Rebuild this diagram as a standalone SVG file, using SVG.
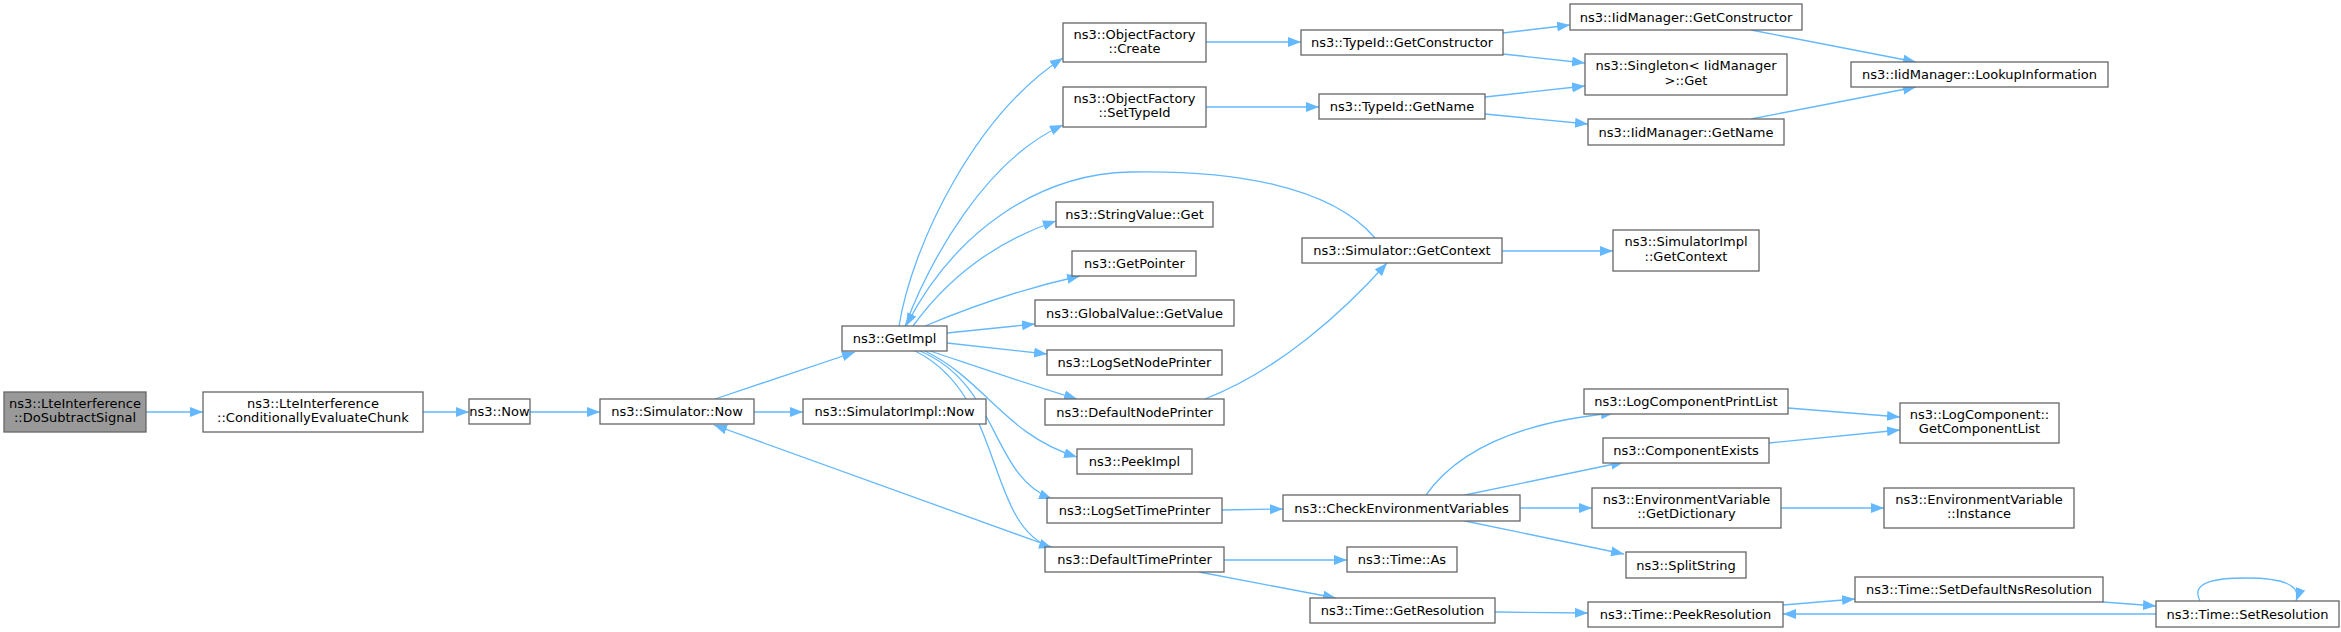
<svg xmlns="http://www.w3.org/2000/svg" width="2341" height="632" viewBox="0 0 2341 632">
<style>
.n rect{fill:#fff;stroke:#666;stroke-width:1.3}
.n.hl rect{fill:#999}
text{font-family:"DejaVu Sans",sans-serif;font-size:13px;text-anchor:middle;fill:#000}
#edges path{fill:none;stroke:#63b8ff;stroke-width:1.3;marker-end:url(#a)}
</style>
<defs>
<marker id="a" markerUnits="userSpaceOnUse" markerWidth="14" markerHeight="11" refX="13" refY="5" orient="auto"><path d="M0,0L13,5L0,10z" fill="#63b8ff"/></marker>
</defs>
<rect width="2341" height="632" fill="#fff"/>
<g id="edges">
<path d="M146,412L203,412"/>
<path d="M423,412L469,412"/>
<path d="M530,412L600,412"/>
<path d="M754,412L803,412"/>
<path d="M715,399L855,352"/>
<path d="M899,326C912,245 975,115 1063,58"/>
<path d="M905,326C930,260 985,160 1063,125"/>
<path d="M1375,238C1330,185 1230,170 1130,172C1040,174 955,230 906,326"/>
<path d="M913,326C950,275 1000,240 1056,221"/>
<path d="M925,326C975,305 1030,287 1080,276"/>
<path d="M947,333L1035,324"/>
<path d="M947,343L1047,354"/>
<path d="M930,351C975,366 1030,385 1077,399"/>
<path d="M925,351C985,380 1005,435 1077,457"/>
<path d="M920,351C1000,385 990,475 1052,499"/>
<path d="M915,351C1005,395 985,525 1052,548"/>
<path d="M1052,547L714,425"/>
<path d="M1205,399C1280,370 1345,310 1387,263"/>
<path d="M1502,251L1613,251"/>
<path d="M1206,42L1301,42"/>
<path d="M1206,107L1319,107"/>
<path d="M1503,33L1570,25"/>
<path d="M1503,54L1585,63"/>
<path d="M1485,97L1585,86"/>
<path d="M1485,114L1588,124"/>
<path d="M1751,30L1916,62"/>
<path d="M1751,119L1916,87"/>
<path d="M1222,510L1283,509"/>
<path d="M1224,560L1347,560"/>
<path d="M1199,572L1336,598"/>
<path d="M1426,495C1465,440 1540,420 1614,413"/>
<path d="M1465,495L1624,462"/>
<path d="M1520,508L1592,508"/>
<path d="M1465,521L1624,554"/>
<path d="M1788,408L1900,417"/>
<path d="M1769,443L1900,430"/>
<path d="M1781,508L1884,508"/>
<path d="M1495,612L1588,613"/>
<path d="M1783,605L1855,599"/>
<path d="M2103,602L2156,606"/>
<path d="M2156,614L1783,614"/>
<path d="M2200,601C2190,582 2215,578 2247,578C2282,578 2302,585 2296,601"/>
</g>
<g id="n1" class="n hl"><rect x="4" y="392" width="142" height="40"/><text x="75" y="407.5">ns3::LteInterference</text><text x="75" y="422">::DoSubtractSignal</text></g>
<g id="n2" class="n"><rect x="203" y="392" width="220" height="40"/><text x="313" y="407.5">ns3::LteInterference</text><text x="313" y="422">::ConditionallyEvaluateChunk</text></g>
<g id="n3" class="n"><rect x="469" y="399" width="61" height="25"/><text x="499.5" y="416">ns3::Now</text></g>
<g id="n4" class="n"><rect x="600" y="399" width="154" height="25"/><text x="677" y="416">ns3::Simulator::Now</text></g>
<g id="n5" class="n"><rect x="803" y="399" width="183" height="25"/><text x="894.5" y="416">ns3::SimulatorImpl::Now</text></g>
<g id="n6" class="n"><rect x="842" y="326" width="105" height="25"/><text x="894.5" y="343">ns3::GetImpl</text></g>
<g id="n7" class="n"><rect x="1063" y="23" width="143" height="39"/><text x="1134.5" y="38.5">ns3::ObjectFactory</text><text x="1134.5" y="53">::Create</text></g>
<g id="n8" class="n"><rect x="1063" y="87" width="143" height="40"/><text x="1134.5" y="102.5">ns3::ObjectFactory</text><text x="1134.5" y="117">::SetTypeId</text></g>
<g id="n9" class="n"><rect x="1056" y="202" width="157" height="25"/><text x="1134.5" y="219">ns3::StringValue::Get</text></g>
<g id="n10" class="n"><rect x="1072" y="251" width="124" height="25"/><text x="1134.5" y="268">ns3::GetPointer</text></g>
<g id="n11" class="n"><rect x="1035" y="300" width="199" height="26"/><text x="1134.5" y="317.5">ns3::GlobalValue::GetValue</text></g>
<g id="n12" class="n"><rect x="1047" y="350" width="175" height="25"/><text x="1134.5" y="367">ns3::LogSetNodePrinter</text></g>
<g id="n13" class="n"><rect x="1045" y="399" width="179" height="26"/><text x="1134.5" y="416.5">ns3::DefaultNodePrinter</text></g>
<g id="n14" class="n"><rect x="1077" y="449" width="115" height="25"/><text x="1134.5" y="466">ns3::PeekImpl</text></g>
<g id="n15" class="n"><rect x="1047" y="498" width="175" height="25"/><text x="1134.5" y="515">ns3::LogSetTimePrinter</text></g>
<g id="n16" class="n"><rect x="1045" y="547" width="179" height="25"/><text x="1134.5" y="564">ns3::DefaultTimePrinter</text></g>
<g id="n17" class="n"><rect x="1301" y="30" width="202" height="25"/><text x="1402" y="47">ns3::TypeId::GetConstructor</text></g>
<g id="n18" class="n"><rect x="1319" y="94" width="166" height="25"/><text x="1402" y="111">ns3::TypeId::GetName</text></g>
<g id="n19" class="n"><rect x="1302" y="238" width="200" height="25"/><text x="1402" y="255">ns3::Simulator::GetContext</text></g>
<g id="n20" class="n"><rect x="1283" y="495" width="237" height="26"/><text x="1401.5" y="512.5">ns3::CheckEnvironmentVariables</text></g>
<g id="n21" class="n"><rect x="1347" y="547" width="110" height="25"/><text x="1402" y="564">ns3::Time::As</text></g>
<g id="n22" class="n"><rect x="1310" y="598" width="185" height="25"/><text x="1402.5" y="615">ns3::Time::GetResolution</text></g>
<g id="n23" class="n"><rect x="1570" y="4" width="232" height="26"/><text x="1686" y="21.5">ns3::IidManager::GetConstructor</text></g>
<g id="n24" class="n"><rect x="1585" y="54" width="202" height="41"/><text x="1686" y="70">ns3::Singleton&lt; IidManager</text><text x="1686" y="84.5">&gt;::Get</text></g>
<g id="n25" class="n"><rect x="1588" y="119" width="196" height="26"/><text x="1686" y="136.5">ns3::IidManager::GetName</text></g>
<g id="n26" class="n"><rect x="1613" y="230" width="146" height="41"/><text x="1686" y="246">ns3::SimulatorImpl</text><text x="1686" y="260.5">::GetContext</text></g>
<g id="n27" class="n"><rect x="1584" y="389" width="204" height="25"/><text x="1686" y="406">ns3::LogComponentPrintList</text></g>
<g id="n28" class="n"><rect x="1603" y="438" width="166" height="25"/><text x="1686" y="455">ns3::ComponentExists</text></g>
<g id="n29" class="n"><rect x="1592" y="488" width="189" height="40"/><text x="1686.5" y="503.5">ns3::EnvironmentVariable</text><text x="1686.5" y="518">::GetDictionary</text></g>
<g id="n30" class="n"><rect x="1626" y="552" width="120" height="26"/><text x="1686" y="569.5">ns3::SplitString</text></g>
<g id="n31" class="n"><rect x="1588" y="602" width="195" height="25"/><text x="1685.5" y="619">ns3::Time::PeekResolution</text></g>
<g id="n32" class="n"><rect x="1851" y="62" width="257" height="25"/><text x="1979.5" y="79">ns3::IidManager::LookupInformation</text></g>
<g id="n33" class="n"><rect x="1900" y="403" width="159" height="40"/><text x="1979.5" y="418.5">ns3::LogComponent::</text><text x="1979.5" y="433">GetComponentList</text></g>
<g id="n34" class="n"><rect x="1884" y="488" width="190" height="40"/><text x="1979" y="503.5">ns3::EnvironmentVariable</text><text x="1979" y="518">::Instance</text></g>
<g id="n35" class="n"><rect x="1855" y="577" width="248" height="25"/><text x="1979" y="594">ns3::Time::SetDefaultNsResolution</text></g>
<g id="n36" class="n"><rect x="2156" y="601" width="183" height="26"/><text x="2247.5" y="618.5">ns3::Time::SetResolution</text></g>
</svg>
